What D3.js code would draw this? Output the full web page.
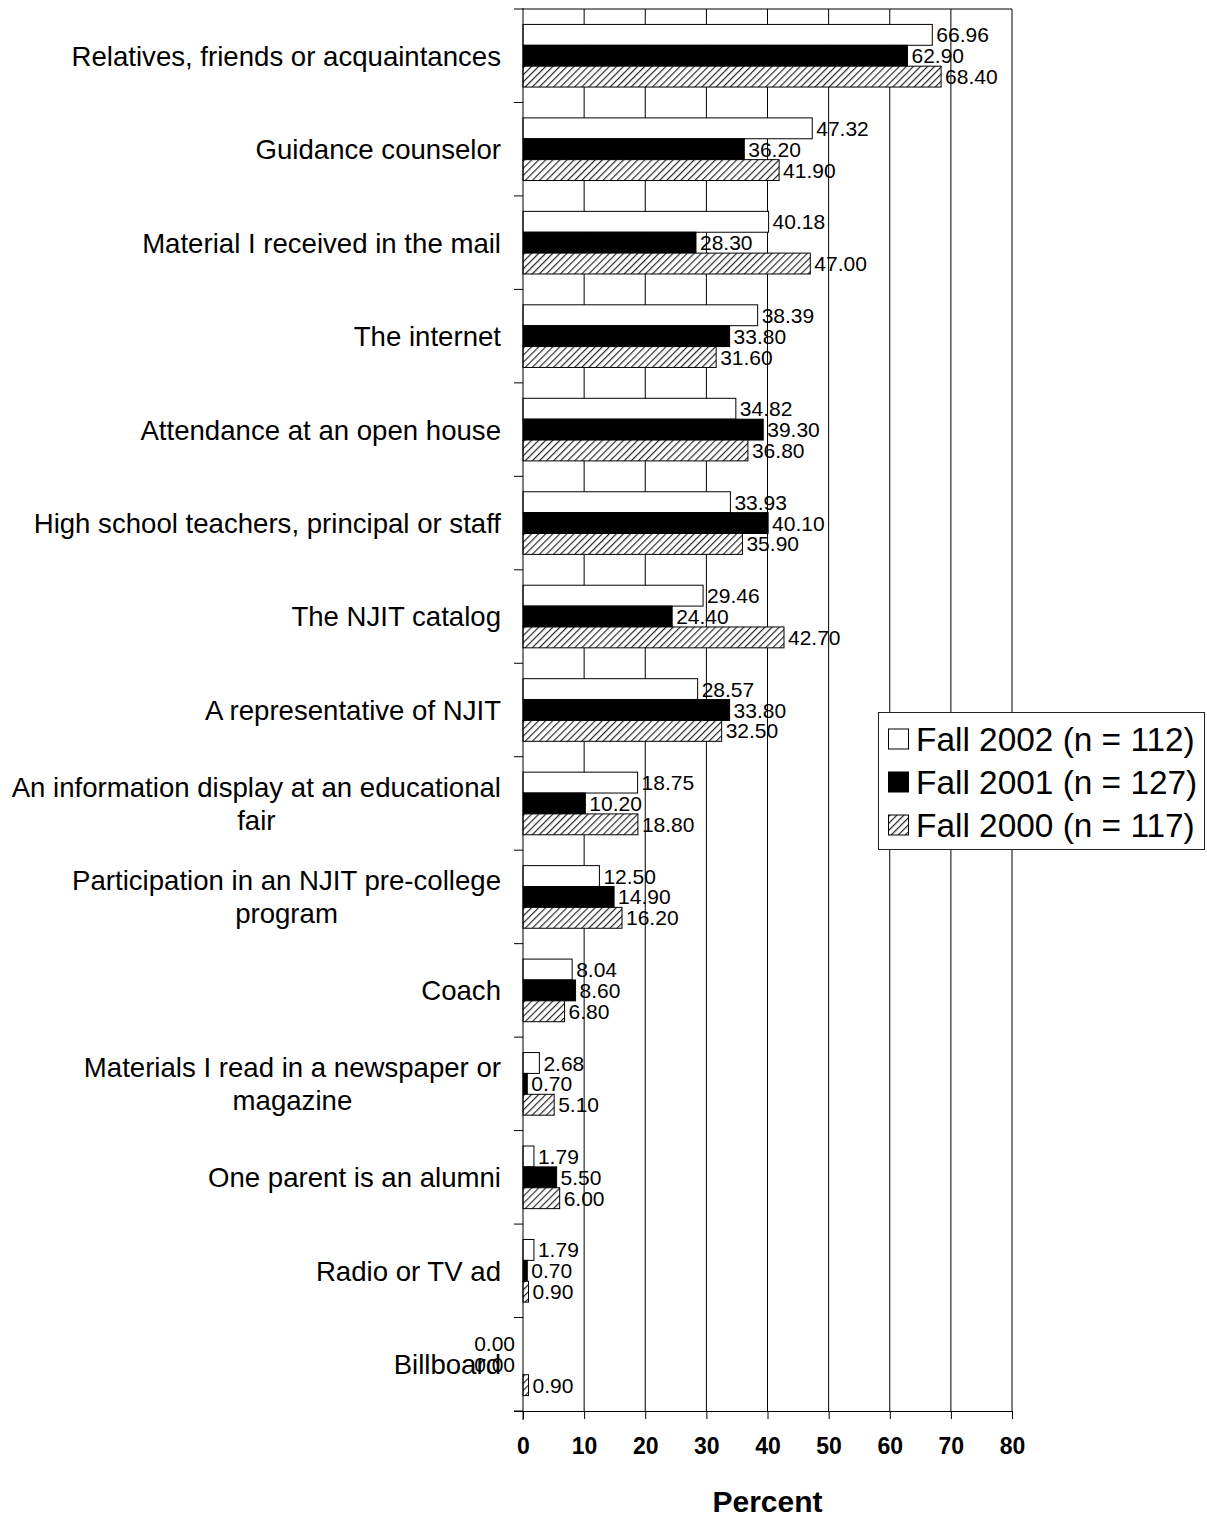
<!DOCTYPE html>
<html><head><meta charset="utf-8">
<script src="https://cdn.jsdelivr.net/npm/d3@7"></script>
<style>body{margin:0;background:#fff}svg{display:block}text{font-family:"Liberation Sans",Arial,sans-serif}</style>
</head><body>
<svg id="c" width="1207" height="1517"></svg>
<script>
const categories = [
  "Relatives, friends or acquaintances",
  "Guidance counselor",
  "Material I received in the mail",
  "The internet",
  "Attendance at an open house",
  "High school teachers, principal or staff",
  "The NJIT catalog",
  "A representative of NJIT",
  "An information display at an educational\nfair",
  "Participation in an NJIT pre-college\nprogram",
  "Coach",
  "Materials I read in a newspaper or\nmagazine",
  "One parent is an alumni",
  "Radio or TV ad",
  "Billboard"
];
const seriesNames = ["Fall 2002 (n = 112)", "Fall 2001 (n = 127)", "Fall 2000 (n = 117)"];
const fall2002 = [66.96, 47.32, 40.18, 38.39, 34.82, 33.93, 29.46, 28.57, 18.75, 12.50, 8.04, 2.68, 1.79, 1.79, 0.00];
const fall2001 = [62.90, 36.20, 28.30, 33.80, 39.30, 40.10, 24.40, 33.80, 10.20, 14.90, 8.60, 0.70, 5.50, 0.70, 0.00];
const fall2000 = [68.40, 41.90, 47.00, 31.60, 36.80, 35.90, 42.70, 32.50, 18.80, 16.20, 6.80, 5.10, 6.00, 0.90, 0.90];
const xTicks = [0, 10, 20, 30, 40, 50, 60, 70, 80];

const series = [fall2002, fall2001, fall2000];
const fills = ["#fff", "#000", "url(#hatch)"];

const svg = d3.select("#c");
const pLeft = 523, pRight = 1012, pTop = 9, pBottom = 1411;

const defs = svg.append("defs");
const pat = defs.append("pattern").attr("id", "hatch").attr("patternUnits", "userSpaceOnUse")
  .attr("width", 5).attr("height", 5).attr("patternTransform", "rotate(45)");
pat.append("rect").attr("width", 5).attr("height", 5).attr("fill", "#fff");
pat.append("line").attr("x1", 0).attr("y1", 0).attr("x2", 0).attr("y2", 5).attr("stroke", "#2a2a2a").attr("stroke-width", 2.4);

const x = d3.scaleLinear().domain([0, 80]).range([pLeft, pRight]);
const y = d3.scaleBand().domain(d3.range(categories.length)).range([pTop, pBottom]).paddingInner(0.33).paddingOuter(0.165);
const ySub = d3.scaleBand().domain([0, 1, 2]).range([0, y.bandwidth()]);

// gridlines
svg.append("g").selectAll("line").data(xTicks.slice(1)).join("line")
  .attr("x1", d => x(d)).attr("x2", d => x(d)).attr("y1", pTop).attr("y2", pBottom)
  .attr("stroke", "#000").attr("stroke-width", 1);
// top border
svg.append("line").attr("x1", pLeft).attr("x2", pRight).attr("y1", pTop).attr("y2", pTop).attr("stroke", "#000");

// bars
const groups = svg.append("g").selectAll("g").data(categories).join("g")
  .attr("transform", (d, i) => `translate(0,${y(i)})`);
groups.each(function(cat, i) {
  const g = d3.select(this);
  series.forEach((s, k) => {
    const v = s[i];
    if (v > 0) {
      g.append("rect").attr("x", x(0)).attr("y", ySub(k)).attr("width", x(v) - x(0)).attr("height", ySub.bandwidth())
        .attr("fill", fills[k]).attr("stroke", "#000").attr("stroke-width", 1);
    }
  });
});
// value labels
groups.each(function(cat, i) {
  const g = d3.select(this);
  series.forEach((s, k) => {
    const v = s[i];
    const t = g.append("text").attr("y", ySub(k) + ySub.bandwidth() / 2).attr("dy", "0.36em")
      .attr("font-size", 21).attr("fill", "#000").text(v.toFixed(2));
    if (v > 0) t.attr("x", x(v) + 4);
    else t.attr("x", x(0) - 8).attr("text-anchor", "end");
  });
});

// y axis
const yAxisG = svg.append("g");
yAxisG.append("line").attr("x1", pLeft).attr("x2", pLeft).attr("y1", pTop - 1).attr("y2", pBottom + 9).attr("stroke", "#000");
const yTickPos = d3.range(categories.length + 1).map(i => pTop + i * (pBottom - pTop) / categories.length);
yAxisG.selectAll("line.t").data(yTickPos).join("line").attr("class", "t")
  .attr("x1", pLeft - 9).attr("x2", pLeft).attr("y1", d => d).attr("y2", d => d).attr("stroke", "#000");

// x axis
const xAxis = d3.axisBottom(x).tickValues(xTicks).tickSize(8).tickSizeOuter(0).tickFormat(d3.format("d"));
const xg = svg.append("g").attr("transform", `translate(0,${pBottom})`).call(xAxis);
xg.select(".domain").attr("d", `M${pLeft - 9},0.5H${pRight}`).attr("stroke", "#000");
xg.selectAll(".tick line").attr("stroke", "#000");
xg.selectAll(".tick text").attr("y", 27).attr("dy", "0.71em").attr("font-size", 23).attr("font-weight", "bold")
  .attr("fill", "#000").attr("font-family", '"Liberation Sans",Arial,sans-serif');

svg.append("text").attr("x", (pLeft + pRight) / 2).attr("y", 1512).attr("text-anchor", "middle")
  .attr("font-size", 30).attr("font-weight", "bold").text("Percent");

// category labels
const labelG = svg.append("g");
categories.forEach((cat, i) => {
  const lines = cat.split("\n");
  const cy = y(i) + y.bandwidth() / 2;
  const lh = 33;
  const tg = labelG.append("g");
  const texts = lines.map((ln, j) => tg.append("text").attr("font-size", 27.6).attr("fill", "#000")
    .attr("y", cy + (j - (lines.length - 1) / 2) * lh).attr("dy", "0.36em").text(ln));
  const widths = texts.map(t => t.node().getComputedTextLength());
  const maxW = d3.max(widths);
  const cx = 501 - maxW / 2;
  texts.forEach(t => t.attr("x", cx).attr("text-anchor", "middle"));
});

// legend
const lg = svg.append("g");
lg.append("rect").attr("x", 878.5).attr("y", 712.5).attr("width", 326).attr("height", 137)
  .attr("fill", "#fff").attr("stroke", "#222").attr("stroke-width", 1);
seriesNames.forEach((n, k) => {
  const cy = 739 + k * 43;
  lg.append("rect").attr("x", 888.5).attr("y", cy - 10).attr("width", 20).attr("height", 20)
    .attr("fill", fills[k]).attr("stroke", "#000");
  lg.append("text").attr("x", 916).attr("y", cy).attr("dy", "0.36em").attr("font-size", 33.4).text(n);
});
</script>
</body></html>
